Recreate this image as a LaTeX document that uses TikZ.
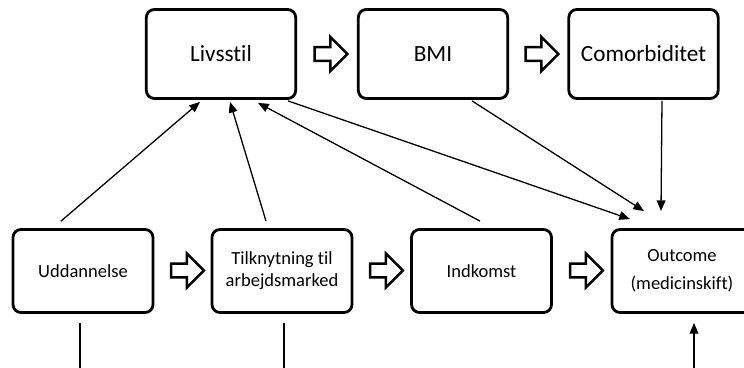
\documentclass[tikz,border=0pt]{standalone}
\usepackage{fontspec}
\setmainfont[Ligatures=NoCommon]{Carlito}
\usetikzlibrary{shapes.arrows, arrows.meta, positioning, calc}
\tikzset{
  box/.style={draw, line width=2.4pt, rounded corners=0.24cm, align=center,
    minimum width=4.2cm, minimum height=2.49cm, inner sep=0pt},
  topbox/.style={box, minimum width=4.48cm, minimum height=2.67cm,
    font=\fontsize{19.8}{23}\selectfont},
  lowbox/.style={box, font=\fontsize{15.8}{19}\selectfont},
  fatarrow/.style={single arrow, draw, line width=2.1pt, minimum height=0.98cm,
    minimum width=0.98cm, inner sep=0.17cm, single arrow head extend=0.3cm},
  link/.style={line width=1.1pt, -{Triangle[length=0.32cm,width=0.26cm]}},
  stub/.style={line width=1.1pt}
}

\begin{document}
\begin{tikzpicture}[x=0.03cm, y=0.03cm]
  \useasboundingbox (0,0) rectangle (744,368);

  % Top row
  \node[topbox] (livsstil) at (221,314) {Livsstil};
  \node[topbox] (bmi) at (433,314) {BMI};
  \node[topbox] (comorb) at (643.5,314) {Comorbiditet};

  % Bottom row
  \node[lowbox] (uddan) at (83,97) {Uddannelse};
  \node[lowbox] (tilknyt) at (282,97) {Tilknytning til\\arbejdsmarked};
  \node[lowbox] (indkomst) at (481.5,97) {Indkomst};
  \node[lowbox] (outcome) at (682,97) {Outcome\\[5pt](medicinskift)};

  % Block arrows
  \node[fatarrow] (ba1) at (327.5,314) {};
  \node[fatarrow] (ba2) at (538.5,314) {};
  \node[fatarrow] (ba3) at (184,97.5) {};
  \node[fatarrow] (ba4) at (383,97.5) {};
  \node[fatarrow] (ba5) at (583,97.5) {};

  % Arrows into Livsstil
  \draw[link] ($(uddan.north)+(-22,7)$) -- ($(livsstil.south)+(-21,-2)$);
  \draw[link] ($(tilknyt.north)+(-16,7)$) -- ($(livsstil.south)+(9,-2)$);
  \draw[link] ($(indkomst.north)+(-1.5,7)$) -- ($(livsstil.south)+(37,-3)$);

  % Arrows into Outcome
  \draw[link] ($(livsstil.south)+(67,-1)$) -- ($(outcome.north)+(-52,9)$);
  \draw[link] ($(bmi.south)+(39,-1)$) -- ($(outcome.north)+(-38,17)$);
  \draw[link] ($(comorb.south)+(18.5,-1)$) -- ($(outcome.north)+(-21,17)$);

  % Lines leaving the picture
  \coordinate (uddend) at (80,-5);
  \coordinate (tilkend) at (284,-5);
  \coordinate (outstart) at (694,-5);
  \draw[stub] ($(uddan.south)+(-3,-9)$) -- (uddend);
  \draw[stub] ($(tilknyt.south)+(2,-9)$) -- (tilkend);
  \draw[link] (outstart) -- ($(outcome.south)+(12,-9)$);

\end{tikzpicture}
\end{document}
